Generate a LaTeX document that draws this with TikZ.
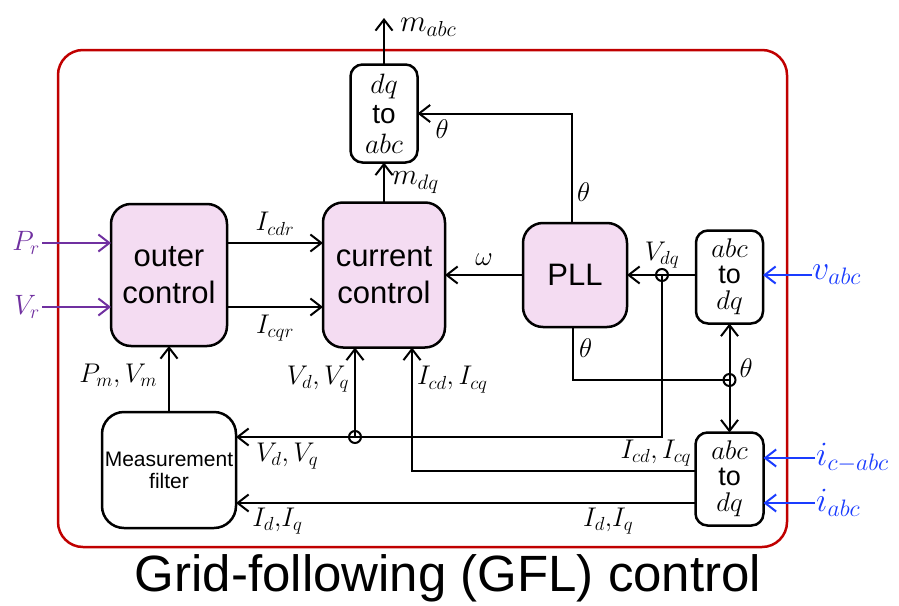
\RequirePackage{fix-cm}
\documentclass[tikz,border=0pt]{standalone}
\usepackage{fontspec}
\setmainfont{Liberation Sans}
\definecolor{frm}{HTML}{C00000}
\definecolor{refc}{HTML}{7030A0}
\definecolor{measc}{HTML}{1A3CFF}
\definecolor{soft}{HTML}{F4DCF2}
\usetikzlibrary{arrows.meta,positioning}
\tikzset{
  >={Straight Barb[length=11pt,width=17pt]},
  box/.style={draw=black,rounded corners=12pt,line width=2.5pt,inner sep=1pt,outer sep=0pt,align=center,fill=white,font=\fontsize{27}{26}\selectfont},
  pbox/.style={box,fill=soft,rounded corners=20pt,font=\fontsize{31}{37}\selectfont},
  lab/.style={font=\fontsize{27}{30}\selectfont,inner sep=2pt},
  blab/.style={lab,font=\fontsize{34}{36}\selectfont,text=measc},
  plab/.style={lab,font=\fontsize{28}{30}\selectfont,text=refc},
  wire/.style={draw=black,line width=2pt},
  arr/.style={->,wire},
  parr/.style={arr,draw=refc},
  barr/.style={arr,draw=measc},
  jn/.style={circle,draw=black,line width=2pt,minimum size=12pt,inner sep=0pt},
  frame/.style={draw=frm,line width=2.5pt,rounded corners=25pt},
}
\begin{document}
\begin{tikzpicture}[x=1pt,y=-1pt]
\useasboundingbox (0,0) rectangle (899,605);
\draw[frame] (58,50) rectangle (787,547);
% blocks
\node[pbox,minimum width=116pt,minimum height=142pt] (outer) at (169,275) {outer\\control};
\node[pbox,minimum width=122pt,minimum height=145pt,right=96pt of outer] (current) {current\\control};
\node[pbox,minimum width=104pt,minimum height=104pt,right=78pt of current] (pll) {PLL};
\node[box,minimum width=67pt,minimum height=93pt,right=69pt of pll,yshift=-2pt] (abct) {$abc$\\to\\$dq$};
\node[box,minimum width=67pt,minimum height=98pt,above=40pt of current,font=\fontsize{28}{30}\selectfont] (dqabc) {$dq$\\to\\$abc$};
\node[box,rounded corners=22pt,minimum width=134pt,minimum height=116pt,below=66pt of outer,font=\fontsize{21}{22}\selectfont] (filt) {Measurement\\filter};
\node[box,minimum width=68pt,minimum height=93pt,below=109pt of abct] (abcb) {$abc$\\to\\$dq$};
% junctions
\coordinate (thy) at (0,380);
\node[jn] (j1) at (662,275) {};
\node[jn] (j2) at (355,437) {};
\node[jn] (j3) at (abct.south |- thy) {};
% free ends
\coordinate (mout) at (384,18);
\coordinate (pin) at (42,243);
\coordinate (vin) at (42,307);
\coordinate (vabc) at (812,275);
\coordinate (icin) at (815,458);
\coordinate (iin) at (815,503);
\coordinate (idq) at ([yshift=-24pt]abcb.west);
% references
\draw[parr] (pin) -- (pin -| outer.west);
\draw[parr] (vin) -- (vin -| outer.west);
\node[plab,anchor=east] (lpr) at (pin) {$P_r$};
\node[plab,anchor=east] (lvr) at (vin) {$V_r$};
\draw[arr] ([yshift=32pt]outer.east) -- ([yshift=32pt]current.west) node[lab,midway,above=5pt] (licdr) {$I_{cdr}$};
\draw[arr] ([yshift=-32pt]outer.east) -- ([yshift=-32pt]current.west) node[lab,midway,below=5pt] (licqr) {$I_{cqr}$};
% modulation
\draw[arr] (current.north) -- (dqabc.south) node[lab,midway,right=5pt,font=\fontsize{30}{32}\selectfont] (lmdq) {$m_{dq}$};
\draw[arr] (dqabc.north) -- (mout) node[lab,pos=0.8,right=13pt,font=\fontsize{31}{32}\selectfont] (lmabc) {$m_{abc}$};
% PLL
\draw[arr] ([xshift=-3pt]pll.north) |- (dqabc.east) node[lab,pos=0.92,below=3pt] (lth1) {$\theta$} node[lab,pos=0.14,right=2pt] (lth2) {$\theta$};
\draw[arr] (pll.west) -- (current.east) node[lab,midway,above=7pt] (lom) {$\omega$};
\draw[arr] (j1.center -| abct.west) -- (pll.east);
\node[lab,above=5pt] (lvdq) at (j1) {$V_{dq}$};
\draw[barr] (vabc) -- (vabc -| abct.east);
\node[blab,anchor=west,inner sep=0pt] (lvabc) at (vabc) {$v_{abc}$};
\draw[wire] ([xshift=-2pt]pll.south) |- (j3.center) node[lab,pos=0.2,right=3pt] (lth3) {$\theta$};
\node[lab,above right=0pt and 8pt] (lth4) at (j3) {$\theta$};
\draw[arr] (j3.center) -- (abct.south);
\draw[arr] (j3.center) -- (abcb.north);
% voltages and currents
\draw[arr] (j1.center) |- ([yshift=33pt]filt.east) node[lab,pos=0.94,below=3pt] (lvd2) {$V_d, V_q$};
\draw[arr] (j2.center) -- (j2 |- current.south) node[lab,pos=0.65,left=3pt] (lvd1) {$V_d, V_q$};
\draw[arr] ([yshift=8pt]abcb.west) -| ([xshift=28pt]current.south) node[lab,pos=0.07,above=2pt] (licd2) {$I_{cd}, I_{cq}$} node[lab,pos=0.87,right=2pt] (licd1) {$I_{cd}, I_{cq}$};
\draw[arr] (idq) -- (idq -| filt.east) node[lab,pos=0.19,below=2pt] (lid2) {$I_d{,}I_q$} node[lab,pos=0.91,below=2pt] (lid1) {$I_d{,}I_q$};
\draw[arr] (filt.north) -- (outer.south) node[lab,pos=0.55,left=9pt] (lpm) {$P_m, V_m$};
\draw[barr] (icin) -- (icin -| abcb.east);
\draw[barr] (iin) -- (iin -| abcb.east);
\node[blab,anchor=west,inner sep=1pt] (licabc) at (icin) {$i_{c-abc}$};
\node[blab,anchor=west,inner sep=1pt] (liabc) at (iin) {$i_{abc}$};
% caption
\node[anchor=base,font=\fontsize{51}{56}\selectfont] (ttl) at (448,591) {Grid-following (GFL) control};
\end{tikzpicture}
\end{document}
